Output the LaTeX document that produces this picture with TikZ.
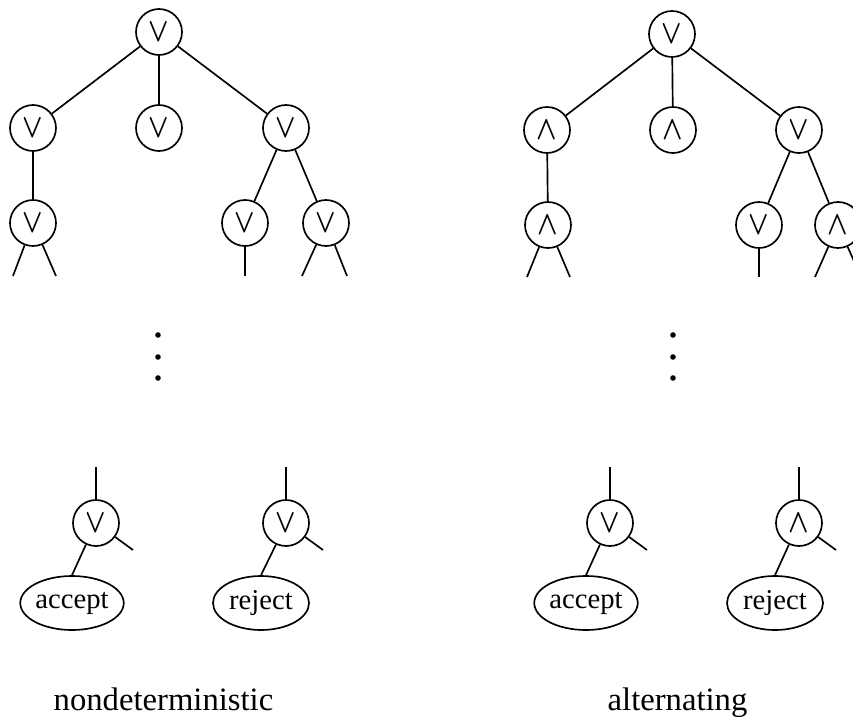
\documentclass[tikz,border=0pt]{standalone}
\usepackage{fontspec}
\setmainfont{Liberation Serif}
\usepackage{graphicx}
\usetikzlibrary{shapes.geometric}
\newcommand\gor{\scalebox{2.0}[2.5]{$\vee$}}
\newcommand\gand{\scalebox{2.0}[2.5]{$\wedge$}}
\begin{document}
\begin{tikzpicture}[x=0.75pt,y=-0.75pt,
  gate/.style={circle,draw,line width=1.25pt,inner sep=0pt,minimum size=34.5pt,font=\normalsize\boldmath},
  leaf/.style={ellipse,draw,line width=1.25pt,inner sep=0pt,minimum width=72pt,minimum height=40.5pt,font=\fontsize{21.5}{21.5}\selectfont},
  dotmark/.style={circle,fill,inner sep=0pt,minimum size=4.2pt},
  lbl/.style={anchor=base,font=\fontsize{24.5}{24.5}\selectfont},
  edge/.style={line width=1.25pt}]
\useasboundingbox (0,0) rectangle (853,717);
\clip (0,0) rectangle (853,717);
% ---------- left tree (nondeterministic) ----------
\node[gate] (a0) at (159,32) {\gor};
\node[gate] (a1) at (33,128) {\gor};
\node[gate] (a2) at (159,128) {\gor};
\node[gate] (a3) at (286,128) {\gor};
\node[gate] (a4) at (33,223) {\gor};
\node[gate] (a5) at (245,223) {\gor};
\node[gate] (a6) at (326,223) {\gor};
\coordinate (a4l) at (13,276);
\coordinate (a4r) at (56,276);
\coordinate (a5d) at (245,276);
\coordinate (a6l) at (302,276);
\coordinate (a6r) at (347,276);
\draw[edge] (a0) -- (a1);
\draw[edge] (a0) -- (a2);
\draw[edge] (a0) -- (a3);
\draw[edge] (a1) -- (a4);
\draw[edge] (a3) -- (a5);
\draw[edge] (a3) -- (a6);
\draw[edge] (a4) -- (a4l);
\draw[edge] (a4) -- (a4r);
\draw[edge] (a5) -- (a5d);
\draw[edge] (a6) -- (a6l);
\draw[edge] (a6) -- (a6r);
\node[dotmark] (ad1) at (158,335) {};
\node[dotmark] (ad2) at (158,357) {};
\node[dotmark] (ad3) at (158,378) {};
\node[gate] (b1) at (96,523) {\gor};
\coordinate (b1u) at (96,467);
\coordinate (b1r) at (133,550);
\node[leaf] (acc1) at (72,603) {accept};
\draw[edge] (b1u) -- (b1);
\draw[edge] (b1) -- (b1r);
\draw[edge] (b1.245) -- (acc1.north);
\node[gate] (b2) at (286,523) {\gor};
\coordinate (b2u) at (286,467);
\coordinate (b2r) at (323,550);
\node[leaf] (rej1) at (261,603) {reject};
\draw[edge] (b2u) -- (b2);
\draw[edge] (b2) -- (b2r);
\draw[edge] (b2.245) -- (rej1.north);
\node[lbl] (t1) at (163.5,710) {nondeterministic};
% ---------- right tree (alternating) ----------
\node[gate] (c0) at (672,34) {\gor};
\node[gate] (c1) at (547,130) {\gand};
\node[gate] (c2) at (673,130) {\gand};
\node[gate] (c3) at (799,130) {\gor};
\node[gate] (c4) at (548,225) {\gand};
\node[gate] (c5) at (759,225) {\gor};
\node[gate] (c6) at (838,225) {\gand};
\coordinate (c4l) at (527,277);
\coordinate (c4r) at (570,277);
\coordinate (c5d) at (759,277);
\coordinate (c6l) at (815,277);
\coordinate (c6r) at (861,277);
\draw[edge] (c0) -- (c1);
\draw[edge] (c0) -- (c2);
\draw[edge] (c0) -- (c3);
\draw[edge] (c1) -- (c4);
\draw[edge] (c3) -- (c5);
\draw[edge] (c3) -- (c6);
\draw[edge] (c4) -- (c4l);
\draw[edge] (c4) -- (c4r);
\draw[edge] (c5) -- (c5d);
\draw[edge] (c6) -- (c6l);
\draw[edge] (c6) -- (c6r);
\node[dotmark] (cd1) at (673,335) {};
\node[dotmark] (cd2) at (673,357) {};
\node[dotmark] (cd3) at (673,378) {};
\node[gate] (d1) at (610,523) {\gor};
\coordinate (d1u) at (610,467);
\coordinate (d1r) at (647,550);
\node[leaf] (acc2) at (586,603) {accept};
\draw[edge] (d1u) -- (d1);
\draw[edge] (d1) -- (d1r);
\draw[edge] (d1.245) -- (acc2.north);
\node[gate] (d2) at (799,523) {\gand};
\coordinate (d2u) at (799,467);
\coordinate (d2r) at (836,550);
\node[leaf] (rej2) at (775,603) {reject};
\draw[edge] (d2u) -- (d2);
\draw[edge] (d2) -- (d2r);
\draw[edge] (d2.245) -- (rej2.north);
\node[lbl] (t2) at (677.5,710) {alternating};
\end{tikzpicture}
\end{document}
